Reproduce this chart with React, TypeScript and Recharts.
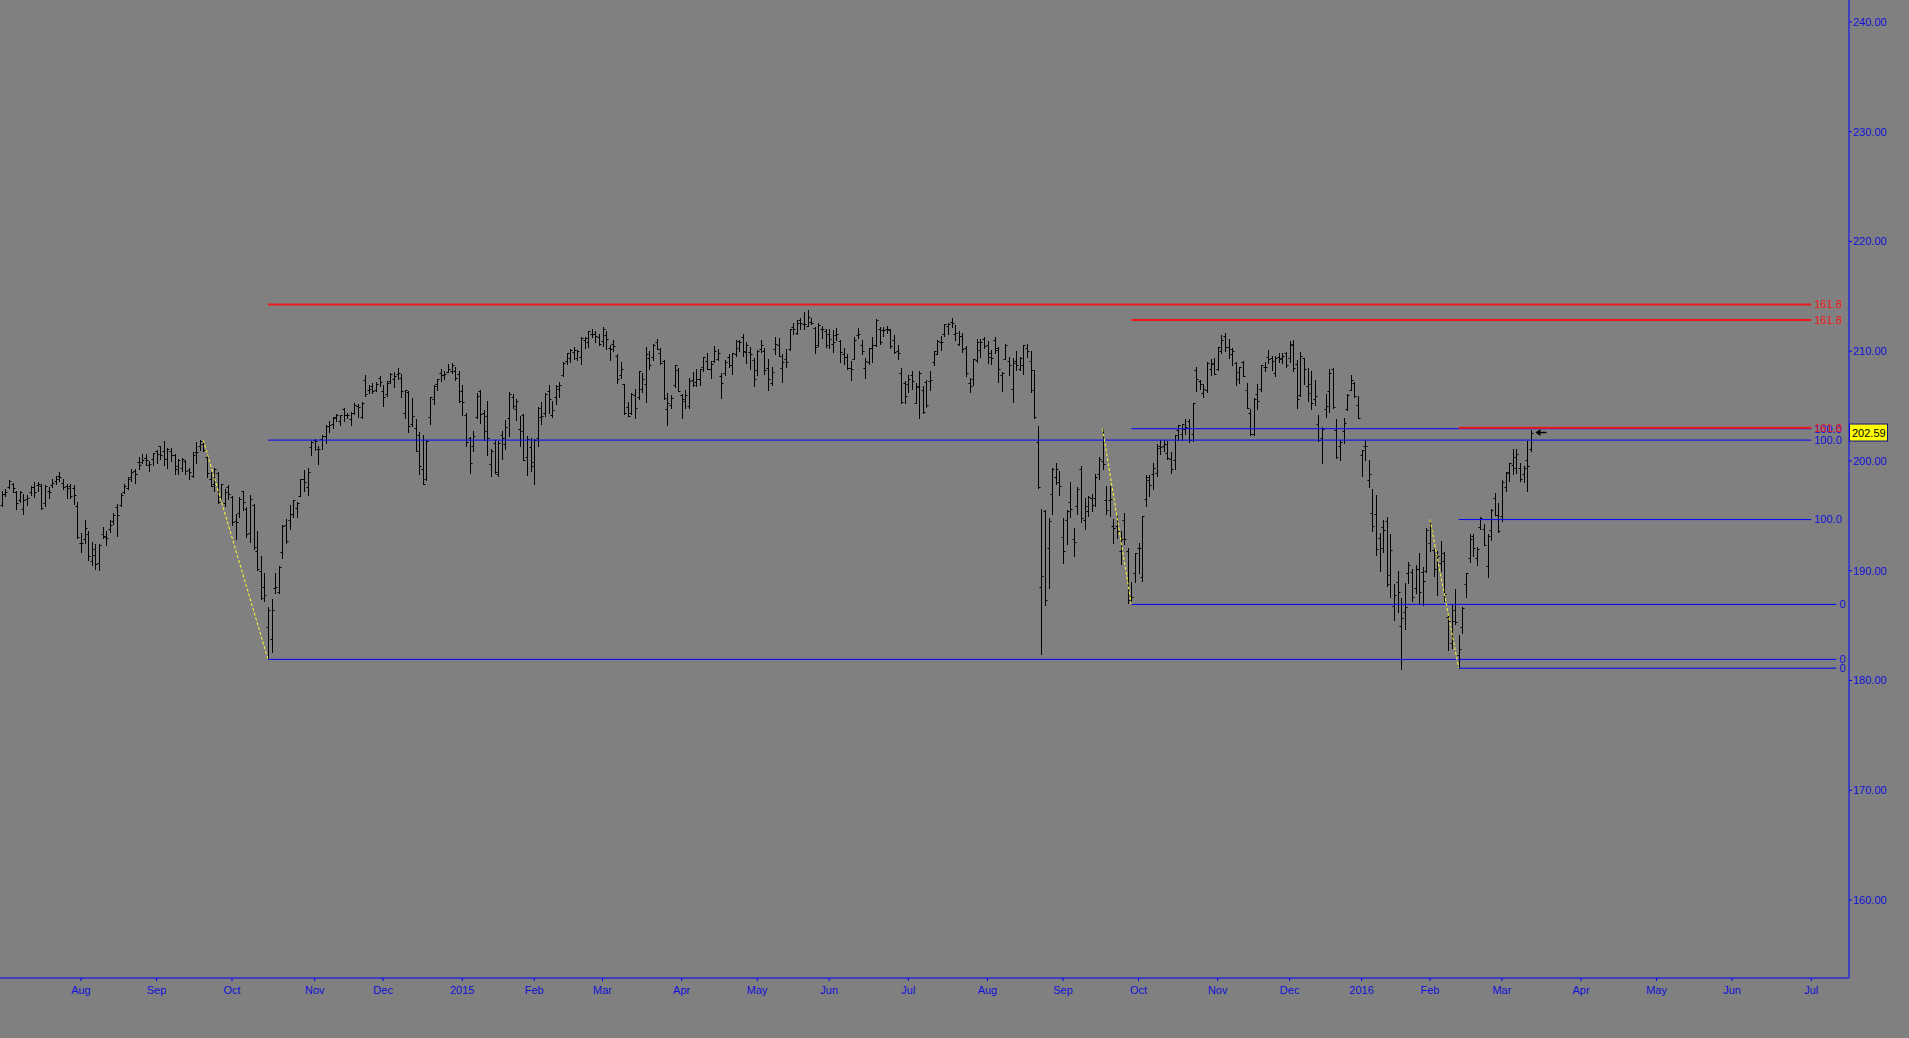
import { ComposedChart, Bar, XAxis, YAxis, ReferenceLine, ReferenceDot } from "recharts";

type Ohlc = [number, number, number, number]; // open, high, low, close

const jul14: Ohlc[] = [
  [196.0, 197.3, 195.9, 197.0], [197.0, 197.4, 196.8, 197.2], [197.6, 198.3, 197.5, 198.2], [197.9, 198.0, 197.2, 197.5],
  [197.2, 197.3, 195.6, 196.2], [196.4, 197.3, 196.3, 197.2], [195.6, 197.0, 195.2, 196.4], [196.5, 196.9, 196.0, 196.6],
  [197.2, 197.7, 196.9, 197.6], [197.6, 198.1, 196.7, 197.2], [197.8, 198.1, 197.3, 197.9], [197.7, 197.9, 195.6, 195.7],
  [196.2, 197.8, 195.9, 197.7], [197.3, 197.6, 196.6, 197.2], [197.8, 198.4, 197.6, 198.0], [198.2, 198.6, 197.9, 198.4],
  [198.6, 199.0, 198.2, 198.5], [198.0, 198.4, 197.4, 197.6], [197.7, 197.9, 196.6, 197.5], [197.7, 197.9, 196.6, 196.8],
  [197.5, 197.8, 196.1, 196.9], [195.9, 196.3, 193.0, 193.1],
];
const aug14: Ohlc[] = [
  [192.5, 193.4, 191.7, 192.5], [192.9, 194.6, 192.5, 193.9], [193.3, 193.6, 191.0, 191.3], [190.9, 192.6, 190.5, 191.4],
  [192.0, 192.4, 190.2, 190.6], [190.7, 192.4, 190.1, 192.3], [193.3, 194.0, 193.0, 193.2], [193.1, 193.6, 192.3, 193.0],
  [193.8, 194.6, 193.5, 194.2], [194.5, 195.3, 194.3, 195.1], [195.8, 196.1, 193.2, 195.1], [196.0, 197.1, 195.9, 196.9],
  [197.2, 197.9, 197.1, 197.7], [197.5, 198.5, 197.4, 198.4], [198.5, 199.3, 198.2, 199.0], [199.1, 199.3, 198.0, 198.8],
  [199.9, 200.4, 199.3, 199.6], [199.9, 200.6, 199.8, 200.1], [200.3, 200.6, 199.6, 200.1], [199.6, 200.0, 199.1, 199.7],
  [200.2, 200.7, 199.6, 200.7],
];
const sep14: Ohlc[] = [
  [200.9, 201.0, 199.8, 200.6], [201.4, 201.4, 200.2, 200.5], [200.9, 201.8, 199.6, 200.2], [200.2, 201.2, 199.4, 201.1],
  [200.9, 201.2, 200.0, 200.5], [200.5, 200.6, 198.8, 199.3], [199.5, 200.2, 198.8, 200.1], [199.4, 200.3, 199.1, 200.2],
  [200.0, 200.1, 198.8, 199.1], [199.2, 199.4, 198.4, 199.0], [198.6, 200.8, 198.5, 200.5], [200.8, 201.7, 199.8, 200.8],
  [201.4, 201.9, 201.0, 201.8], [201.5, 201.9, 200.9, 201.0], [200.4, 200.5, 198.5, 198.9], [198.4, 199.0, 197.7, 197.7],
  [197.9, 199.4, 197.3, 199.3], [198.9, 199.0, 196.2, 196.3], [196.7, 197.9, 196.5, 197.9], [196.2, 197.4, 195.9, 197.2],
  [197.6, 197.8, 196.5, 197.0],
];
const oct14: Ohlc[] = [
  [196.7, 196.8, 194.2, 194.4], [194.5, 195.2, 192.9, 194.4], [195.3, 196.7, 194.9, 196.5], [197.3, 197.3, 195.5, 196.3],
  [195.6, 195.8, 193.1, 193.3], [193.4, 196.9, 192.6, 196.5], [196.0, 196.1, 192.0, 192.2], [191.8, 193.6, 190.1, 190.2],
  [190.0, 191.3, 187.4, 187.5], [188.5, 189.8, 187.2, 187.8], [184.9, 186.7, 181.92, 186.4], [183.8, 187.4, 182.6, 186.4],
  [188.4, 189.8, 188.0, 188.5], [188.1, 190.4, 188.0, 190.3], [191.7, 194.2, 191.2, 194.1], [194.2, 194.7, 192.5, 192.7],
  [194.6, 196.0, 193.8, 195.2], [195.2, 196.4, 194.9, 196.4], [195.7, 196.3, 194.9, 196.2], [196.8, 198.4, 196.8, 198.4],
  [198.4, 199.2, 197.3, 198.1], [197.6, 199.4, 196.9, 199.0], [201.3, 201.8, 200.5, 201.7],
];
const nov14: Ohlc[] = [
  [201.9, 202.0, 201.0, 201.8], [201.1, 201.4, 199.7, 201.1], [202.0, 202.4, 201.1, 202.3], [202.3, 203.3, 201.6, 203.2],
  [203.2, 203.6, 202.6, 203.3], [203.4, 204.0, 203.0, 203.9], [204.0, 204.3, 203.6, 204.2], [203.6, 204.2, 203.3, 204.2],
  [204.7, 204.8, 203.6, 204.2], [204.2, 204.4, 203.9, 204.2], [203.8, 204.5, 203.3, 204.4], [204.4, 205.3, 204.3, 205.1],
  [205.0, 205.2, 204.0, 204.9], [204.0, 205.4, 203.9, 205.3], [207.4, 207.8, 205.9, 206.1], [206.5, 206.9, 206.2, 206.6],
  [206.8, 207.1, 206.2, 206.4], [206.5, 207.2, 206.4, 207.0], [207.6, 207.7, 206.8, 207.2],
];
const dec14: Ohlc[] = [
  [206.4, 206.9, 205.0, 205.8], [206.1, 207.3, 205.9, 207.1], [207.3, 208.0, 207.1, 207.9], [207.5, 208.1, 206.7, 207.7],
  [207.9, 208.5, 207.5, 208.0], [207.6, 207.9, 205.8, 206.4], [204.4, 206.5, 203.9, 206.5], [206.3, 206.4, 202.6, 203.2],
  [203.4, 205.7, 203.2, 204.1], [203.0, 203.8, 200.9, 200.9], [202.4, 202.6, 198.8, 199.5], [199.3, 202.4, 197.9, 197.9],
  [198.4, 201.9, 198.3, 201.8], [204.0, 205.8, 203.4, 205.8], [205.6, 206.9, 205.2, 206.8], [207.0, 207.5, 206.5, 207.5],
  [208.0, 208.4, 207.3, 207.8], [207.8, 208.2, 207.5, 207.9], [208.1, 208.8, 208.1, 208.4], [208.2, 208.9, 208.0, 208.7],
  [208.2, 208.6, 207.4, 207.6], [207.9, 208.2, 205.4, 205.5],
];
const jan15: Ohlc[] = [
  [206.4, 206.9, 204.2, 205.4], [204.2, 204.4, 201.4, 201.7], [202.1, 202.2, 198.9, 199.8], [201.4, 202.7, 200.9, 202.3],
  [204.0, 206.2, 203.9, 205.9], [206.4, 206.5, 203.5, 204.3], [204.4, 204.6, 201.9, 202.7], [204.1, 205.5, 200.5, 202.1],
  [199.7, 201.1, 198.6, 200.9], [201.6, 201.9, 198.9, 199.0], [198.8, 201.8, 198.6, 201.6], [202.4, 202.7, 200.2, 202.1],
  [201.5, 203.7, 201.1, 203.1], [203.9, 206.3, 202.3, 206.1], [205.8, 206.1, 204.8, 205.0], [204.7, 205.6, 203.7, 205.5],
  [202.9, 204.1, 201.4, 202.7], [204.2, 204.3, 200.1, 200.1], [200.4, 202.3, 198.7, 202.0], [201.3, 202.1, 199.1, 199.5],
];
const feb15: Ohlc[] = [
  [199.9, 202.0, 197.9, 201.9], [202.1, 204.9, 201.4, 204.8], [204.0, 205.4, 203.4, 204.1], [204.4, 206.2, 204.1, 206.1],
  [206.4, 206.9, 204.4, 205.6], [204.2, 205.5, 204.0, 204.6], [205.8, 206.9, 205.2, 206.8], [206.6, 207.2, 205.8, 206.9],
  [207.8, 209.0, 207.7, 208.9], [209.1, 209.8, 208.8, 209.8], [209.4, 210.2, 209.0, 210.1], [209.9, 210.4, 209.3, 210.1],
  [209.4, 210.1, 209.2, 210.0], [209.5, 211.3, 208.8, 211.2], [211.0, 211.3, 210.3, 211.2], [210.8, 211.8, 210.4, 211.8],
  [211.6, 212.0, 211.3, 211.6], [211.6, 211.8, 210.8, 211.4], [211.3, 211.6, 210.6, 210.7],
];
const mar15: Ohlc[] = [
  [210.9, 212.2, 210.5, 212.0], [211.5, 211.8, 210.2, 211.1], [210.3, 210.6, 209.2, 210.2], [210.7, 211.0, 210.0, 210.5],
  [209.6, 209.7, 207.1, 207.5], [207.8, 209.0, 207.6, 208.4], [207.0, 207.0, 204.3, 204.4], [204.9, 205.4, 204.1, 204.1],
  [204.4, 206.2, 204.3, 206.1], [206.0, 206.6, 203.9, 204.8], [205.8, 208.2, 205.6, 208.2], [206.6, 208.0, 206.3, 207.5],
  [207.0, 210.4, 205.4, 209.7], [209.4, 210.0, 208.4, 208.7], [209.5, 210.7, 209.2, 210.6], [210.8, 211.1, 210.2, 210.2],
  [209.8, 210.3, 208.8, 208.9], [209.1, 209.2, 205.6, 205.7], [204.7, 206.2, 203.3, 205.3], [205.1, 206.0, 204.8, 205.7],
  [206.9, 208.7, 206.7, 208.7], [208.3, 208.5, 206.4, 206.4],
];
const apr15: Ohlc[] = [
  [206.0, 206.1, 203.9, 205.6], [205.5, 206.5, 204.8, 206.0], [205.0, 207.6, 204.8, 207.3], [207.4, 208.1, 206.8, 206.9],
  [207.2, 208.4, 206.8, 207.5], [207.5, 208.4, 206.9, 208.4], [208.6, 209.5, 208.2, 209.5], [209.1, 209.8, 208.4, 208.4],
  [208.4, 209.1, 207.6, 208.8], [209.1, 210.5, 209.0, 210.0], [209.3, 210.2, 209.2, 209.8], [207.7, 208.0, 205.7, 207.1],
  [208.0, 209.2, 207.8, 209.0], [209.5, 209.7, 208.6, 208.7], [208.7, 209.8, 207.9, 209.8], [209.7, 211.0, 209.6, 210.3],
  [210.9, 211.0, 210.0, 210.8], [211.3, 211.6, 209.6, 210.0], [209.9, 210.8, 208.9, 210.6], [209.9, 210.4, 208.4, 209.7],
  [209.2, 209.4, 206.8, 207.5],
];
const may15: Ohlc[] = [
  [208.3, 210.1, 207.8, 210.0], [210.2, 211.0, 209.9, 210.6], [210.0, 210.3, 207.9, 208.3], [208.5, 209.3, 206.5, 207.5],
  [207.1, 208.6, 206.9, 208.1], [210.2, 211.3, 209.7, 210.7], [210.6, 211.2, 209.6, 209.6], [208.5, 209.7, 207.2, 209.0],
  [209.3, 210.2, 208.6, 209.0], [210.2, 212.0, 210.1, 212.0], [212.2, 212.6, 211.6, 212.0], [211.7, 212.8, 211.6, 212.6],
  [212.8, 213.0, 212.0, 212.6], [212.5, 213.6, 212.0, 212.5], [212.3, 213.8, 212.3, 213.1], [212.7, 213.0, 212.5, 212.6],
  [212.1, 212.2, 209.8, 210.4], [210.6, 212.6, 210.5, 212.4], [212.0, 212.3, 211.2, 212.0], [211.8, 212.0, 210.4, 210.6],
];
const jun15: Ohlc[] = [
  [211.6, 212.0, 210.3, 211.1], [210.7, 211.9, 209.9, 210.8], [211.5, 212.1, 211.0, 211.6], [210.9, 211.0, 209.0, 209.9],
  [209.7, 210.3, 208.8, 209.5], [209.5, 209.7, 208.4, 208.5], [208.5, 209.1, 207.4, 208.4], [209.3, 211.3, 209.3, 211.0],
  [211.5, 212.1, 211.2, 211.6], [210.6, 211.0, 209.7, 210.0], [208.5, 209.4, 207.6, 209.1], [209.0, 210.3, 208.8, 210.3],
  [210.3, 211.3, 209.0, 210.6], [210.6, 212.9, 210.5, 212.8], [212.0, 212.2, 210.7, 210.8], [211.9, 212.2, 211.4, 211.9],
  [212.0, 212.3, 211.7, 212.0], [211.9, 212.0, 210.3, 210.5], [211.0, 211.5, 209.8, 209.9], [210.0, 210.6, 209.3, 209.8],
  [208.0, 208.5, 205.3, 205.4], [207.1, 207.3, 205.3, 205.9],
];
const jul15: Ohlc[] = [
  [207.0, 207.8, 206.3, 207.5], [207.8, 208.2, 206.6, 207.3], [205.3, 207.1, 205.3, 206.7], [206.8, 208.2, 203.9, 208.0],
  [206.5, 206.8, 204.4, 204.5], [207.2, 207.4, 204.9, 205.1], [207.3, 208.2, 206.5, 207.4], [209.0, 210.0, 208.7, 210.0],
  [209.7, 211.0, 209.7, 210.9], [210.8, 211.4, 210.1, 210.8], [211.6, 212.5, 211.4, 212.5], [212.3, 212.6, 211.6, 212.5],
  [212.7, 213.0, 212.2, 212.6], [211.6, 212.4, 211.0, 211.7], [210.7, 211.8, 210.6, 211.4], [211.4, 211.7, 209.9, 210.2],
  [210.3, 210.5, 207.7, 208.0], [207.1, 207.6, 206.3, 206.8], [207.5, 209.3, 206.9, 209.3], [209.2, 211.1, 209.0, 210.8],
  [210.1, 211.1, 209.5, 210.8], [211.1, 211.3, 210.3, 210.5],
];
const aug15: Ohlc[] = [
  [210.6, 210.9, 208.9, 209.8], [209.5, 210.1, 208.8, 209.4], [211.0, 211.3, 209.8, 210.1], [210.3, 210.4, 207.2, 208.4],
  [207.8, 208.1, 206.4, 208.0], [209.3, 210.7, 209.3, 210.6], [209.1, 209.5, 207.8, 208.7], [206.6, 209.4, 205.4, 208.9],
  [209.1, 210.0, 208.3, 208.7], [208.4, 209.5, 208.3, 209.4], [208.7, 210.6, 207.9, 210.6], [210.3, 210.7, 209.5, 210.0],
  [209.1, 210.0, 206.3, 208.3], [206.5, 208.3, 203.9, 204.0], [201.7, 203.2, 197.5, 197.6], [188.5, 195.6, 182.4, 189.5],
  [195.4, 195.5, 186.9, 187.3], [192.1, 194.8, 188.4, 194.5], [197.0, 199.4, 195.2, 199.3], [198.5, 199.8, 197.9, 199.3],
  [198.1, 199.1, 196.9, 197.7],
];
const sep15: Ohlc[] = [
  [193.1, 194.8, 190.7, 191.8], [194.6, 195.5, 192.4, 195.4], [196.3, 198.1, 194.9, 195.6], [192.9, 193.9, 191.3, 192.6],
  [195.9, 197.6, 195.2, 197.4], [199.3, 199.5, 194.4, 194.8], [194.6, 196.6, 193.8, 195.9], [195.4, 196.8, 195.0, 196.7],
  [196.6, 197.0, 195.4, 196.0], [196.6, 198.8, 195.9, 198.5], [198.8, 200.4, 198.4, 200.2], [200.0, 202.94, 199.3, 199.7],
  [196.4, 197.7, 195.2, 195.5], [196.4, 197.7, 195.0, 196.5], [194.1, 194.7, 192.5, 193.9], [194.1, 195.0, 193.0, 193.6],
  [191.8, 193.6, 190.6, 192.9], [194.6, 195.3, 192.4, 192.9], [191.8, 192.1, 187.1, 187.3], [187.7, 189.0, 186.93, 187.6],
  [189.8, 191.6, 189.0, 191.6],
];
const oct15: Ohlc[] = [
  [192.1, 192.5, 189.8, 192.1], [189.4, 195.0, 189.1, 195.0], [196.5, 198.7, 195.9, 198.5], [198.3, 198.7, 196.8, 197.8],
  [198.8, 199.8, 197.4, 199.4], [198.9, 201.5, 198.6, 201.2], [201.4, 201.9, 200.6, 201.3], [201.4, 201.9, 200.9, 201.5],
  [200.7, 201.8, 200.2, 200.3], [200.2, 200.8, 198.9, 199.3], [200.1, 202.4, 199.3, 202.4], [202.8, 203.3, 201.9, 203.3],
  [202.5, 203.4, 201.9, 203.4], [202.9, 203.8, 202.5, 203.1], [203.6, 203.8, 201.7, 201.9], [202.5, 205.3, 201.8, 205.3],
  [208.3, 208.6, 206.4, 207.5], [207.3, 207.4, 206.6, 207.0], [206.2, 207.0, 205.8, 206.6], [206.5, 209.0, 206.3, 208.9],
  [208.4, 209.3, 207.8, 208.8], [208.9, 209.4, 207.9, 207.9],
];
const nov15: Ohlc[] = [
  [208.4, 210.4, 208.3, 210.4], [210.0, 211.5, 209.8, 211.0], [211.4, 211.7, 210.0, 210.4], [210.4, 211.1, 209.4, 210.2],
  [209.7, 210.3, 208.7, 210.0], [208.9, 209.0, 206.9, 208.1], [207.5, 208.6, 207.1, 208.6], [209.0, 209.1, 207.7, 207.7],
  [206.5, 207.1, 204.8, 204.8], [204.4, 204.7, 202.4, 202.5], [202.5, 205.7, 202.4, 205.6], [206.1, 207.0, 204.7, 205.5],
  [206.6, 208.7, 206.4, 208.7], [208.6, 209.0, 208.2, 208.6], [209.5, 210.1, 208.9, 209.3], [209.4, 209.6, 208.3, 209.1],
  [208.0, 209.6, 207.7, 209.4], [209.5, 209.8, 209.0, 209.3], [209.4, 209.8, 208.9, 209.6], [209.8, 209.9, 208.6, 208.7],
];
const dec15: Ohlc[] = [
  [209.4, 210.9, 209.0, 210.7], [210.6, 211.0, 208.2, 208.5], [208.8, 209.2, 204.8, 205.6], [206.0, 209.9, 205.9, 209.6],
  [209.4, 209.4, 207.0, 208.4], [206.8, 208.5, 205.5, 207.0], [206.2, 208.2, 204.7, 205.3], [205.6, 207.4, 205.1, 205.9],
  [203.4, 204.2, 201.8, 201.9], [202.1, 203.1, 199.8, 202.9], [204.7, 206.1, 204.0, 205.0], [206.4, 208.4, 204.5, 208.0],
  [208.4, 208.5, 204.8, 204.9], [202.8, 203.8, 200.3, 200.4], [201.4, 201.9, 200.1, 201.7], [202.7, 203.9, 201.6, 203.5],
  [204.7, 206.1, 204.6, 206.0], [206.5, 207.8, 206.5, 207.4], [207.1, 207.2, 205.8, 205.9], [205.1, 205.9, 203.9, 203.9],
];
const jan16: Ohlc[] = [
  [200.5, 201.0, 198.6, 201.0], [201.4, 201.9, 200.1, 201.4], [198.3, 200.1, 197.6, 198.8], [195.3, 197.4, 193.6, 194.1],
  [195.2, 196.9, 191.4, 192.0], [193.0, 193.4, 190.0, 192.1], [194.0, 194.6, 191.7, 193.7], [194.5, 194.9, 188.6, 188.8],
  [189.6, 193.3, 187.6, 191.9], [186.8, 188.8, 185.5, 187.8], [189.0, 190.0, 186.2, 188.1], [185.0, 187.5, 181.02, 185.7],
  [186.2, 188.9, 184.7, 186.7], [189.8, 190.8, 188.9, 190.5], [189.9, 190.2, 187.2, 187.6], [188.4, 190.5, 188.0, 190.2],
  [190.2, 191.6, 187.1, 188.1], [189.9, 190.3, 186.9, 189.1], [190.0, 193.9, 189.9, 193.7],
];
const feb16: Ohlc[] = [
  [192.5, 194.66, 191.8, 193.7], [191.9, 192.0, 189.5, 190.2], [191.4, 191.8, 187.8, 191.3], [190.7, 192.7, 190.0, 191.6],
  [190.9, 191.7, 187.2, 187.9], [185.8, 186.1, 182.8, 185.4], [183.4, 186.9, 183.0, 185.4], [186.4, 188.3, 185.1, 185.3],
  [182.3, 184.1, 181.12, 182.9], [184.9, 186.7, 184.3, 186.6], [188.8, 189.8, 187.6, 189.8], [191.2, 193.3, 190.8, 192.9],
  [193.2, 193.3, 191.3, 192.1], [191.2, 192.2, 190.5, 192.0], [194.0, 194.9, 193.8, 194.8], [193.8, 194.3, 192.3, 192.3],
  [190.4, 193.3, 189.4, 193.2], [193.7, 195.6, 192.8, 195.5], [196.6, 197.1, 195.1, 195.1], [195.1, 196.2, 193.5, 193.6],
];
const mar16: Ohlc[] = [
  [195.0, 198.3, 194.5, 198.1], [197.6, 199.0, 197.3, 199.0], [198.9, 199.8, 198.2, 199.8], [199.6, 201.1, 198.8, 200.4],
  [199.4, 201.1, 198.9, 200.6], [199.4, 199.8, 198.2, 198.4], [198.8, 199.5, 198.1, 199.4], [200.1, 201.8, 197.3, 199.5],
  [201.1, 202.8, 200.9, 202.59],
];

const months = [jul14, aug14, sep14, oct14, nov14, dec14, jan15, feb15, mar15, apr15, may15, jun15, jul15, aug15, sep15, oct15, nov15, dec15, jan16, feb16, mar16];

// x axis: one slot per trading day, empty slots after the last bar
const totalSlots = 514;
const monthTicks = [22, 43, 64, 87, 106, 128, 148, 167, 189, 210, 230, 252, 274, 295, 316, 338, 358, 378, 397, 417, 439, 460, 481, 503];
const monthLabels = ["Aug", "Sep", "Oct", "Nov", "Dec", "2015", "Feb", "Mar", "Apr", "May", "Jun", "Jul", "Aug", "Sep", "Oct", "Nov", "Dec", "2016", "Feb", "Mar", "Apr", "May", "Jun", "Jul"];
const priceTicks = [160, 170, 180, 190, 200, 210, 220, 230, 240];
const lastPrice = 202.59;
const arrowSlot = 428;

// fibonacci swings: high bar, low bar, high price, low price
const fibHighIdx = [56, 306, 397];
const fibLowIdx = [74, 314, 405];
const fibHigh = [201.9, 202.94, 194.66];
const fibLow = [181.92, 186.93, 181.12];
const fibRatios = [0, 1, 1.618];
const fibTexts = ["0", "100.0", "161.8"];
const fibEndSlot = [510, 503, 503];

const AXIS = "#0000ff";
const TEXT = "#1010d8";
const RED = "#f01818";
const FONT = "'Liberation Sans', Arial, sans-serif";

const bars = months.flat();
const data = Array.from({ length: totalSlots }, (_, i) => {
  const b = bars[i];
  return b ? { i, o: b[0], h: b[1], l: b[2], c: b[3], range: [b[2], b[1]] } : { i, range: null };
});

const OhlcBar = (props: any) => {
  const { x, y, width, height, payload } = props;
  if (!payload || payload.o == null || !isFinite(y) || !isFinite(height)) return null;
  const cx = Math.round(x + width / 2) + 0.5;
  const span = payload.h - payload.l || 1;
  const oy = Math.round(y + ((payload.h - payload.o) / span) * height) + 0.5;
  const cy = Math.round(y + ((payload.h - payload.c) / span) * height) + 0.5;
  return (
    <g stroke="#000" strokeWidth={1}>
      <line x1={cx} x2={cx} y1={Math.round(y)} y2={Math.round(y + height) + 1} />
      <line x1={cx - 2} x2={cx} y1={oy} y2={oy} />
      <line x1={cx} x2={cx + 2} y1={cy} y2={cy} />
    </g>
  );
};

const PriceTag = (props: any) => {
  const vb = props.viewBox;
  if (!vb) return null;
  const left = vb.x + vb.width;
  return (
    <g>
      <rect x={left + 0.5} y={vb.y - 8.5} width={38} height={17} fill="#ffff00" stroke="#101080" />
      <text x={left + 3} y={vb.y + 4} fontSize={11} fontFamily={FONT} fill="#000">{lastPrice.toFixed(2)}</text>
    </g>
  );
};

const ArrowMark = (props: any) => {
  const { cx, cy } = props;
  return (
    <g>
      <polygon points={`${cx - 6},${cy} ${cx - 1},${cy - 3.5} ${cx - 1},${cy + 3.5}`} fill="#000" />
      <line x1={cx - 2} x2={cx + 5} y1={cy} y2={cy} stroke="#000" strokeWidth={1.5} />
    </g>
  );
};

export default function App() {
  return (
    <div style={{ width: 1909, height: 1038, background: "#808080" }}>
      <style>{"html,body{margin:0;padding:0;background:#808080;}"}</style>
      <ComposedChart width={1909} height={1038} data={data} margin={{ top: 0, right: 0, bottom: 0, left: 0 }}>
        <XAxis
          dataKey="i"
          type="category"
          ticks={monthTicks}
          interval={0}
          height={60}
          stroke={AXIS}
          tickSize={3}
          tickMargin={5}
          tick={{ fill: TEXT, fontSize: 11, fontFamily: FONT }}
          tickFormatter={(v) => monthLabels[monthTicks.indexOf(Number(v))] ?? ""}
        />
        <YAxis
          orientation="right"
          type="number"
          domain={[152.89, 242]}
          allowDataOverflow
          ticks={priceTicks}
          width={60}
          stroke={AXIS}
          tickSize={3}
          tickMargin={1}
          tick={{ fill: TEXT, fontSize: 11, fontFamily: FONT, textAnchor: "start" }}
          tickFormatter={(v) => Number(v).toFixed(2)}
        />
        <Bar dataKey="range" shape={<OhlcBar />} isAnimationActive={false} />
        {fibLow.map((low, k) =>
          fibRatios.map((r, j) => {
            const price = low + r * (fibHigh[k] - low);
            const red = r > 1;
            return (
              <ReferenceLine
                key={`fib-${k}-${j}`}
                segment={[{ x: fibLowIdx[k], y: price }, { x: fibEndSlot[j], y: price }]}
                stroke={red ? RED : AXIS}
                strokeWidth={red ? 2 : 1}
                label={{ value: fibTexts[j], position: "right", offset: 3, fill: red ? RED : TEXT, fontSize: 11, fontFamily: FONT }}
              />
            );
          })
        )}
        {fibLow.map((low, k) => (
          <ReferenceLine
            key={`swing-${k}`}
            segment={[{ x: fibHighIdx[k], y: fibHigh[k] }, { x: fibLowIdx[k], y: low }]}
            stroke="#ffff30"
            strokeDasharray="3 2"
            strokeWidth={1}
          />
        ))}
        <ReferenceLine y={lastPrice} stroke="none" label={<PriceTag />} />
        <ReferenceDot x={arrowSlot} y={lastPrice} r={0} shape={<ArrowMark />} />
      </ComposedChart>
    </div>
  );
}
